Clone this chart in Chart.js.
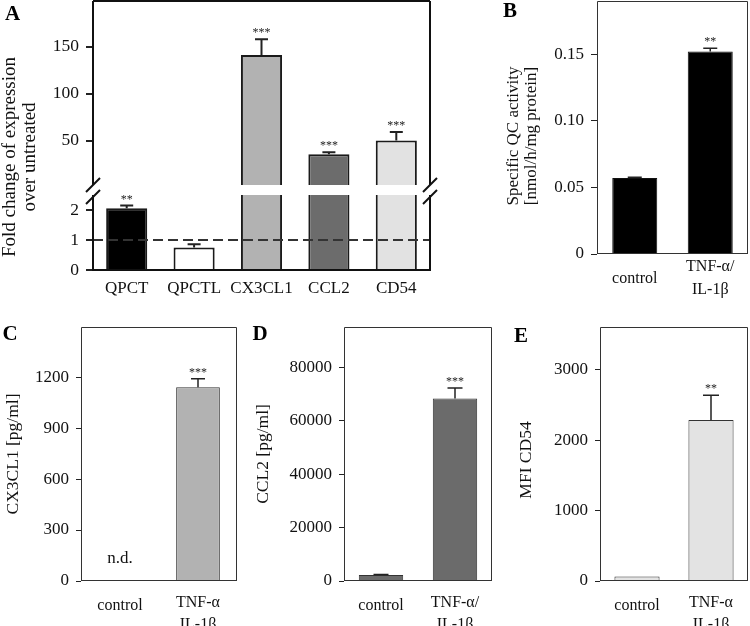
<!DOCTYPE html>
<html><head><meta charset="utf-8">
<script src="https://cdn.jsdelivr.net/npm/chart.js@4/dist/chart.umd.min.js"></script>
<style>
html,body{margin:0;padding:0;background:#fff;}
#wrap{position:relative;width:750px;height:626px;overflow:hidden;background:#fff;}
canvas{position:absolute;}
</style></head><body>
<div id="wrap">
<canvas id="aUp"></canvas><canvas id="aLow"></canvas>
<canvas id="pB"></canvas><canvas id="pC"></canvas><canvas id="pD"></canvas><canvas id="pE"></canvas>
</div>
<script>
// ---------- DATA ----------
const genes = ['QPCT', 'QPCTL', 'CX3CL1', 'CCL2', 'CD54'];
const foldChange = [2.06, 0.75, 141.2, 35.8, 50.4];
const foldChangeErr = [0.09, 0.11, 16.6, 2.1, 8.9];
const foldChangeSig = ['**', '', '***', '***', '***'];
const ticksAUpper = [50, 100, 150];
const ticksALower = [0, 1, 2];

const treatmentsSlash = ['control', ['TNF-α/', 'IL-1β']];
const treatmentsPlain = ['control', ['TNF-α', 'IL-1β']];

const qcActivity = [0.057, 0.152];
const qcActivityErr = [0.0006, 0.0025];
const qcSig = ['', '**'];
const ticksB = [0, 0.05, 0.10, 0.15];

const cx3cl1 = [null, 1140];
const cx3cl1Err = [0, 50];
const cx3cl1Sig = ['', '***'];
const ticksC = [0, 300, 600, 900, 1200];

const ccl2 = [2250, 68300];
const ccl2Err = [150, 3900];
const ccl2Sig = ['', '***'];
const ticksD = [0, 20000, 40000, 60000, 80000];

const cd54 = [65, 2290];
const cd54Err = [0, 350];
const cd54Sig = ['', '**'];
const ticksE = [0, 1000, 2000, 3000];

// ---------- STYLE ----------
const FONT = "'Liberation Serif', 'Times New Roman', serif";
Chart.defaults.font.family = FONT;
Chart.defaults.color = '#111';
const geneColors = ['#000000', '#ffffff', '#b2b2b2', '#6c6c6c', '#e2e2e2'];
const A_UPPER_MIN = 3, A_UPPER_MAX = 198.5, A_LOWER_MAX = 2.5;

const DECO = {};
const deco = {
  id: 'deco',
  afterDatasetsDraw(chart) {
    const o = DECO[chart.canvas.id]; if (!o) return;
    const {ctx, chartArea: a} = chart;
    const x = chart.scales.x, y = chart.scales.y;
    ctx.save();
    ctx.beginPath(); ctx.rect(a.left, a.top, a.right - a.left, a.bottom - a.top); ctx.clip();
    if (o.err) {
      ctx.strokeStyle = o.errColor; ctx.lineWidth = o.errWidth;
      o.values.forEach((v, i) => {
        if (v == null || !o.err[i]) return;
        const px = x.getPixelForValue(i);
        const y0 = y.getPixelForValue(v), y1 = y.getPixelForValue(v + o.err[i]);
        ctx.beginPath();
        ctx.moveTo(px, y0); ctx.lineTo(px, y1);
        ctx.moveTo(px - o.cap / 2, y1); ctx.lineTo(px + o.cap / 2, y1);
        ctx.stroke();
      });
    }
    if (o.refLine != null) {
      const yy = y.getPixelForValue(o.refLine);
      ctx.setLineDash([10, 5]); ctx.strokeStyle = '#333'; ctx.lineWidth = 2;
      ctx.beginPath(); ctx.moveTo(a.left, yy); ctx.lineTo(a.right, yy); ctx.stroke();
      ctx.setLineDash([]);
    }
    ctx.restore();
  },
  afterDraw(chart) {
    const o = DECO[chart.canvas.id]; if (!o) return;
    const {ctx, chartArea: a} = chart;
    const x = chart.scales.x, y = chart.scales.y;
    ctx.save();
    const f = o.frame;
    ctx.strokeStyle = f.color; ctx.lineWidth = f.width;
    const h = f.width % 2 ? 0.5 : 0;
    const L = Math.round(a.left) + h, R = Math.round(a.right) - h, T = Math.round(a.top) + h, B = Math.round(a.bottom) - h;
    ctx.beginPath();
    if (f.sides.includes('l')) { ctx.moveTo(L, T); ctx.lineTo(L, B); }
    if (f.sides.includes('r')) { ctx.moveTo(R, T); ctx.lineTo(R, B); }
    if (f.sides.includes('t')) { ctx.moveTo(L, T); ctx.lineTo(R, T); }
    if (f.sides.includes('b')) { ctx.moveTo(L - f.width / 2, B); ctx.lineTo(R + f.width / 2, B); }
    ctx.stroke();
    if (o.breaks) {
      ctx.lineWidth = 2; ctx.strokeStyle = '#111';
      [a.left, a.right].forEach(bx => {
        [a.bottom, a.bottom + 12].forEach(yc => {
          ctx.beginPath(); ctx.moveTo(bx - 7, yc + 7); ctx.lineTo(bx + 7, yc - 7); ctx.stroke();
        });
      });
    }
    if (o.stars) {
      ctx.fillStyle = '#222'; ctx.font = o.starFont + 'px ' + FONT;
      ctx.textAlign = 'center'; ctx.textBaseline = 'alphabetic';
      o.values.forEach((v, i) => {
        if (v == null || !o.stars[i]) return;
        const yy = y.getPixelForValue(v + (o.err ? o.err[i] : 0));
        if (yy < a.top || yy > a.bottom) return;
        ctx.fillText(o.stars[i], x.getPixelForValue(i), yy - o.starGap);
      });
    }
    if (o.notes) {
      ctx.fillStyle = '#111'; ctx.font = '17px ' + FONT; ctx.textAlign = 'center'; ctx.textBaseline = 'middle';
      o.notes.forEach(n => ctx.fillText(n.text, x.getPixelForValue(n.index), y.getPixelForValue(n.value)));
    }
    if (o.letter) {
      ctx.fillStyle = '#000'; ctx.font = 'bold 21px ' + FONT; ctx.textAlign = 'center'; ctx.textBaseline = 'middle';
      ctx.fillText(o.letter.text, o.letter.x - o.box.x, o.letter.y - o.box.y);
    }
    if (o.title) {
      const t = o.title;
      ctx.fillStyle = '#111'; ctx.font = t.size + 'px ' + FONT; ctx.textAlign = 'center'; ctx.textBaseline = 'middle';
      t.lines.forEach((ln, i) => {
        ctx.save(); ctx.translate(t.x[i] - o.box.x, t.y - o.box.y); ctx.rotate(-Math.PI / 2);
        ctx.fillText(ln, 0, 0); ctx.restore();
      });
    }
    ctx.restore();
  }
};

function makePanel(id, box, area, cfg) {
  const cv = document.getElementById(id);
  cv.width = box.w; cv.height = box.h;
  cv.style.left = box.x + 'px'; cv.style.top = box.y + 'px';
  const yW = area.l - box.x;
  const xH = box.y + box.h - area.b;
  const showX = cfg.showX !== false;
  cfg.deco.box = box;
  DECO[id] = cfg.deco;
  const lh = (cfg.yTitleSize || 17) * (cfg.yTitleLH || 1.2);
  const yTitle = cfg.yTitle ? {
    display: true, text: cfg.yTitle, color: '#111',
    font: {size: cfg.yTitleSize, lineHeight: cfg.yTitleLH || 1.2},
    padding: {top: cfg.yTitleX - box.x - lh / 2, bottom: 0}
  } : {display: false};
  const xLH = cfg.xLH || 1.2, xLH0 = cfg.xLH0 || xLH;
  return new Chart(cv, {
    type: 'bar',
    data: {labels: cfg.labels, datasets: [{
      data: cfg.values, backgroundColor: cfg.colors, borderColor: cfg.borderColor,
      borderWidth: cfg.borderWidth, barPercentage: cfg.barPct, categoryPercentage: 1, clip: 0
    }]},
    options: {
      responsive: false, animation: false, devicePixelRatio: 1,
      layout: {padding: {left: 0, right: box.x + box.w - area.r, top: area.t - box.y, bottom: showX ? 0 : xH}},
      plugins: {legend: {display: false}, tooltip: {enabled: false}},
      scales: {
        x: {
          display: showX, offset: true, grid: {display: false, drawTicks: false}, border: {display: false},
          ticks: {font: c => ({size: cfg.xFont, lineHeight: c.index === 0 ? xLH0 : xLH}), padding: cfg.xPad,
                  maxRotation: 0, autoSkip: false, color: '#111'},
          afterFit: s => { s.height = showX ? xH : 0; s.paddingLeft = 0; s.paddingRight = 0; }
        },
        y: {
          min: cfg.min, max: cfg.max,
          afterBuildTicks: s => { s.ticks = cfg.ticks.map(v => ({value: v})); },
          grid: {drawOnChartArea: false, drawTicks: true, tickLength: cfg.tickLen, color: '#222', lineWidth: cfg.tickW},
          border: {display: false},
          ticks: {font: {size: cfg.yFont}, padding: cfg.yPad, color: '#111', callback: cfg.fmt || (v => String(v))},
          title: yTitle,
          afterFit: s => { s.width = yW; s.paddingTop = 0; s.paddingBottom = 0; }
        }
      }
    },
    plugins: [deco]
  });
}

// ---------- PANEL A (broken axis: two stacked charts) ----------
const boxA = {x: 0, y: 0, w: 450, h: 305};
const foldChangeUpper = foldChange.map(v => v > A_UPPER_MIN ? v : null);
makePanel('aUp', boxA, {l: 93, t: 1, r: 430, b: 185}, {
  labels: genes, values: foldChangeUpper, colors: geneColors, borderColor: '#1a1a1a', borderWidth: 2, barPct: 0.61,
  min: A_UPPER_MIN, max: A_UPPER_MAX, ticks: ticksAUpper, tickLen: 7, tickW: 2, yFont: 17.5, yPad: 7, showX: false,
  deco: {values: foldChangeUpper, err: foldChangeErr, errColor: '#222', errWidth: 2, cap: 13,
         stars: foldChangeSig, starFont: 12, starGap: 3,
         frame: {sides: ['l', 't', 'r'], color: '#111', width: 2}, breaks: true,
         letter: {text: 'A', x: 12.5, y: 15}}
});
makePanel('aLow', boxA, {l: 93, t: 195, r: 430, b: 270}, {
  labels: genes, values: foldChange, colors: geneColors, borderColor: '#1a1a1a', borderWidth: 2, barPct: 0.61,
  min: 0, max: A_LOWER_MAX, ticks: ticksALower, tickLen: 7, tickW: 2, yFont: 17.5, yPad: 7,
  xFont: 17, xLH: 1.2, xPad: 8,
  deco: {values: foldChange, err: foldChangeErr, errColor: '#222', errWidth: 2, cap: 13,
         stars: foldChangeSig, starFont: 12, starGap: 3, refLine: 1,
         frame: {sides: ['l', 'r', 'b'], color: '#111', width: 2},
         title: {lines: ['Fold change of expression', 'over untreated'], x: [10, 30], y: 157, size: 19}}
});

// ---------- PANEL B ----------
makePanel('pB', {x: 490, y: 0, w: 260, h: 300}, {l: 597, t: 1, r: 748, b: 254}, {
  labels: treatmentsSlash, values: qcActivity, colors: ['#000', '#000'], borderColor: '#111', borderWidth: 1, barPct: 0.596,
  min: 0, max: 0.19, ticks: ticksB, tickLen: 6, tickW: 1, yFont: 17, yPad: 7,
  fmt: v => v === 0 ? '0' : v.toFixed(2),
  xFont: 16, xLH: 1.44, xLH0: 2.94, xPad: 1,
  deco: {values: qcActivity, err: qcActivityErr, errColor: '#222', errWidth: 1.5, cap: 14,
         stars: qcSig, starFont: 12, starGap: 3,
         frame: {sides: ['l', 't', 'r', 'b'], color: '#333', width: 1},
         letter: {text: 'B', x: 510, y: 12},
         title: {lines: ['Specific QC activity', '[nmol/h/mg protein]'], x: [514, 532], y: 136, size: 17}}
});

// ---------- PANEL C ----------
makePanel('pC', {x: 0, y: 310, w: 245, h: 316}, {l: 81, t: 327, r: 237, b: 581}, {
  labels: treatmentsPlain, values: cx3cl1, colors: ['#b2b2b2', '#b2b2b2'], borderColor: '#333', borderWidth: 1, barPct: 0.56,
  min: 0, max: 1495, ticks: ticksC, tickLen: 5, tickW: 1, yFont: 17, yPad: 7,
  xFont: 16, xLH: 1.38, xLH0: 1.75, xPad: 11,
  yTitle: 'CX3CL1 [pg/ml]', yTitleSize: 17.5, yTitleX: 13,
  deco: {values: cx3cl1, err: cx3cl1Err, errColor: '#222', errWidth: 1.5, cap: 14,
         stars: cx3cl1Sig, starFont: 12, starGap: 3,
         notes: [{index: 0, value: 130, text: 'n.d.'}],
         frame: {sides: ['l', 't', 'r', 'b'], color: '#333', width: 1},
         letter: {text: 'C', x: 10, y: 335}}
});

// ---------- PANEL D ----------
makePanel('pD', {x: 245, y: 310, w: 255, h: 316}, {l: 344, t: 327, r: 492, b: 581}, {
  labels: treatmentsSlash, values: ccl2, colors: ['#6b6b6b', '#6b6b6b'], borderColor: '#333', borderWidth: 1, barPct: 0.6,
  min: 0, max: 95000, ticks: ticksD, tickLen: 5, tickW: 1, yFont: 17, yPad: 7,
  xFont: 16, xLH: 1.38, xLH0: 1.75, xPad: 11,
  yTitle: 'CCL2 [pg/ml]', yTitleSize: 17.5, yTitleX: 263,
  deco: {values: ccl2, err: ccl2Err, errColor: '#222', errWidth: 1.5, cap: 15,
         stars: ccl2Sig, starFont: 12, starGap: 3,
         frame: {sides: ['l', 't', 'r', 'b'], color: '#333', width: 1},
         letter: {text: 'D', x: 260, y: 335}}
});

// ---------- PANEL E ----------
makePanel('pE', {x: 500, y: 310, w: 250, h: 316}, {l: 600, t: 327, r: 748, b: 581}, {
  labels: treatmentsPlain, values: cd54, colors: ['#e3e3e3', '#e3e3e3'], borderColor: '#333', borderWidth: 1, barPct: 0.61,
  min: 0, max: 3610, ticks: ticksE, tickLen: 5, tickW: 1, yFont: 17, yPad: 7,
  xFont: 16, xLH: 1.38, xLH0: 1.75, xPad: 11,
  deco: {values: cd54, err: cd54Err, errColor: '#222', errWidth: 1.5, cap: 16,
         stars: cd54Sig, starFont: 12, starGap: 3,
         frame: {sides: ['l', 't', 'r', 'b'], color: '#333', width: 1},
         letter: {text: 'E', x: 521, y: 337},
         title: {lines: ['MFI CD54'], x: [526], y: 460, size: 17.5}}
});
</script>
</body></html>
